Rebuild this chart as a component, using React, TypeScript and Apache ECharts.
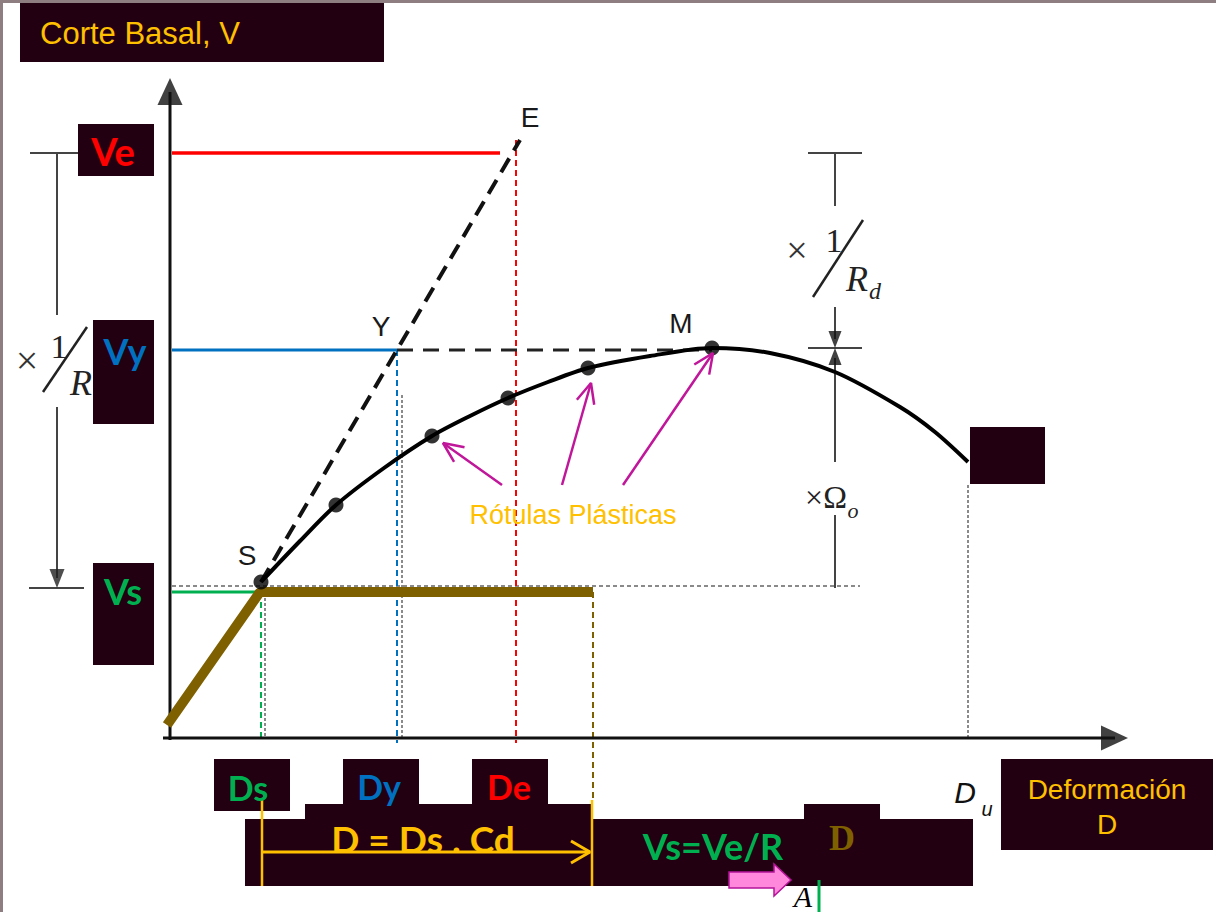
import React, { useEffect, useRef } from "react";
import * as echarts from "echarts";

// ---- Data (deformation D on x, base shear V on y) ----
const D_NAMES = ["Ds", "Dy", "De", "D", "Du"];
const D_VALUES = [0.91, 2.27, 3.46, 4.23, 7.98];
const V_NAMES = ["Vs", "Vy", "Ve"];
const V_VALUES = [1.46, 3.88, 5.85];
// capacity (pushover) curve from S through the plastic hinges to M and down to Du
const CURVE_D = [0.91, 1.3, 1.66, 2.14, 2.62, 3.0, 3.38, 3.78, 4.18, 4.8, 5.42, 6.0, 6.65, 7.3, 7.65, 7.98];
const CURVE_V = [1.56, 1.97, 2.33, 2.7, 3.02, 3.22, 3.4, 3.56, 3.7, 3.82, 3.9, 3.85, 3.66, 3.31, 3.06, 2.76];
// plastic hinge dots (S, four hinges, M)
const DOT_D = [0.91, 1.66, 2.62, 3.38, 4.18, 5.42];
const DOT_V = [1.56, 2.33, 3.02, 3.4, 3.7, 3.9];
const POINT_E = [3.5, 5.98];
// idealised bilinear (brown) response
const IDEAL_D = [-0.03, 0.9, 4.23];
const IDEAL_V = [0.13, 1.46, 1.46];
// hinge call-out arrows
const HINGE_TAIL = [[3.32, 2.53], [3.92, 2.53], [4.53, 2.53]];
const HINGE_HEAD = [[2.73, 2.95], [4.21, 3.55], [5.43, 3.85]];

const DARK = "#230011";
const YELLOW = "#FFC000";
const GREEN = "#00B050";
const BLUE = "#0070C0";
const RED = "#FF0000";
const BROWN = "#7F6000";
const MAGENTA = "#C0169A";
const SANS = "'Liberation Sans', Arial, sans-serif";
const CAL = "Lato, 'Open Sans', sans-serif";
const SERIF = "'Liberation Serif', 'Times New Roman', serif";

const seg = (pts: number[][], color: string, width: number, type: any = "solid", z = 3, extra: any = {}) => ({
  type: "line",
  data: pts,
  symbol: "none",
  silent: true,
  z,
  lineStyle: { color, width, type, cap: "butt" },
  ...extra,
});

const head = (pt: number[], w: number, h: number, rot: number, color: string) => ({
  type: "scatter",
  data: [pt],
  symbol: "triangle",
  symbolSize: [w, h],
  symbolRotate: rot,
  silent: true,
  z: 6,
  itemStyle: { color },
});

function chevron(tail: number[], tip: number[], len: number, half: number) {
  const dx = tip[0] - tail[0];
  const dy = tip[1] - tail[1];
  const L = Math.hypot(dx, dy);
  const ux = dx / L;
  const uy = dy / L;
  const bx = tip[0] - ux * len;
  const by = tip[1] - uy * len;
  return [[bx - uy * half, by + ux * half], tip, [bx + uy * half, by - ux * half]];
}

const box = (x: number, y: number, w: number, h: number) => ({
  type: "rect",
  shape: { x, y, width: w, height: h },
  style: { fill: DARK },
  z: 1,
  silent: true,
});

const txt = (x: number, y: number, text: string, fill: string, fontSize: number, fontFamily = SANS, more: any = {}) => ({
  type: "text",
  x,
  y,
  z: 50,
  silent: true,
  style: { text, fill, fontSize, fontFamily, align: "center", verticalAlign: "middle", ...more },
});

const gline = (x1: number, y1: number, x2: number, y2: number, stroke: string, lineWidth: number) => ({
  type: "line",
  shape: { x1, y1, x2, y2 },
  style: { stroke, lineWidth },
  z: 50,
  silent: true,
});

function buildOption() {
  const [Ds, Dy, De, Dd, Du] = D_VALUES;
  const [Vs, Vy, Ve] = V_VALUES;
  const curve = CURVE_D.map((d, i) => [d, CURVE_V[i]]);
  const dots = DOT_D.map((d, i) => [d, DOT_V[i]]);
  const S = dots[0];
  const M = dots[dots.length - 1];
  const ideal = IDEAL_D.map((d, i) => [d, IDEAL_V[i]]);
  const dimGray = "#444";

  const series: any[] = [
    // reference dotted grey lines
    seg([[0.02, 1.52], [6.9, 1.52]], "#8a8a8a", 2, [4, 3], 2),
    seg([[0.95, 1.4], [0.95, 0]], "#8a8a8a", 2, [3, 2], 2),
    seg([[2.32, 3.43], [2.32, 0]], "#8a8a8a", 2, [3, 2], 2),
    seg([[Du, 2.53], [Du, 0]], "#8a8a8a", 2, [3, 2], 2),
    // Ve, Vy, Vs levels
    seg([[0.02, Ve], [3.3, Ve]], RED, 3.5),
    seg([[De, POINT_E[1]], [De, -0.05]], RED, 2, [6, 4]),
    seg([[0.02, Vy], [Dy, Vy]], BLUE, 3),
    seg([[Dy, Vy], [Dy, -0.05]], BLUE, 2, [6, 4]),
    seg([[0.02, Vs], [0.88, Vs]], GREEN, 3),
    seg([[Ds, Vs], [Ds, -0.03]], GREEN, 2, [6, 4]),
    seg([[Dd, Vs], [Dd, -0.62]], BROWN, 2, [6, 4]),
    // elastic line to E and yield plateau
    seg([S, POINT_E], "#111", 4, [16, 9], 3),
    seg([[Dy, Vy], [M[0], Vy]], "#222", 3, [16, 10], 3),
    // bilinear idealisation
    seg(ideal, BROWN, 10, "solid", 5),
    // capacity curve
    seg(curve, "#000", 4, "solid", 6, { smooth: 0.3 }),
    {
      type: "scatter",
      data: dots,
      symbol: "circle",
      symbolSize: 15,
      silent: true,
      z: 7,
      itemStyle: { color: "#000" },
    },
    // axes
    seg([[0, -0.02], [0, 6.46]], "#111", 3, "solid", 4),
    seg([[-0.07, 0], [9.45, 0]], "#111", 3, "solid", 4),
    head([0, 6.465], 25, 27, 0, "#111"),
    head([9.445, 0], 25, 27, -90, "#111"),
    // left dimension (x 1/R)
    seg([[-1.4, Ve], [-0.92, Ve]], dimGray, 2),
    seg([[-1.41, 1.5], [-0.86, 1.5]], dimGray, 2),
    seg([[-1.13, Ve], [-1.13, 4.23]], dimGray, 2),
    seg([[-1.13, 3.31], [-1.13, 1.6]], dimGray, 2),
    head([-1.13, 1.595], 15, 19, 180, "#222"),
    // right dimension (x 1/Rd, x Omega)
    seg([[6.38, Ve], [6.92, Ve]], dimGray, 2),
    seg([[6.38, 3.9], [6.92, 3.9]], dimGray, 2),
    seg([[6.65, Ve], [6.65, 5.32]], dimGray, 2),
    seg([[6.65, 4.31], [6.65, 3.99]], dimGray, 2),
    seg([[6.65, 3.8], [6.65, 2.76]], dimGray, 2),
    seg([[6.65, 2.23], [6.65, 1.5]], dimGray, 2),
    head([6.65, 3.985], 13, 17, 180, "#111"),
    head([6.65, 3.815], 13, 17, 0, "#111"),
    // bottom yellow dimension D = Ds . Cd
    seg([[Ds + 0.01, -0.62], [Ds + 0.01, -1.48]], YELLOW, 2.5, "solid", 8),
    seg([[Dd - 0.01, -0.62], [Dd - 0.01, -1.48]], YELLOW, 2.5, "solid", 8),
    seg([[Ds + 0.01, -1.14], [Dd - 0.03, -1.14]], YELLOW, 3, "solid", 8),
    seg(chevron([Ds, -1.14], [Dd - 0.03, -1.14], 0.19, 0.11), YELLOW, 3, "solid", 8),
  ];
  HINGE_TAIL.forEach((t, i) => {
    series.push(seg([t, HINGE_HEAD[i]], MAGENTA, 2.5, "solid", 8));
    series.push(seg(chevron(t, HINGE_HEAD[i], 0.2, 0.09), MAGENTA, 2.5, "solid", 8));
  });

  const graphic: any[] = [
    // frame
    { type: "rect", shape: { x: 0, y: 0, width: 1216, height: 3 }, style: { fill: "#8E7E82" }, z: 60, silent: true },
    { type: "rect", shape: { x: 0, y: 0, width: 3, height: 912 }, style: { fill: "#8E7E82" }, z: 60, silent: true },
    // title
    box(20, 3, 364, 59),
    txt(40, 33, "Corte Basal, V", YELLOW, 31, SANS, { align: "left" }),
    // V level labels
    box(78, 124, 76, 52),
    txt(113, 151, V_NAMES[2], RED, 38, CAL, { fontWeight: "bold" }),
    box(93, 320, 61, 104),
    txt(125, 351, V_NAMES[1], BLUE, 36, CAL, { fontWeight: "bold" }),
    box(93, 563, 61, 102),
    txt(123, 591, V_NAMES[0], GREEN, 36, CAL, { fontWeight: "bold" }),
    box(970, 427, 75, 57),
    // D level labels
    box(214, 759, 76, 52),
    txt(248, 787, D_NAMES[0], GREEN, 34, CAL, { fontWeight: "bold" }),
    box(343, 759, 76, 46),
    txt(379, 786, D_NAMES[1], BLUE, 34, CAL, { fontWeight: "bold" }),
    box(472, 759, 76, 46),
    txt(509, 786, D_NAMES[2], RED, 34, CAL, { fontWeight: "bold" }),
    box(305, 804, 288, 16),
    box(245, 819, 728, 67),
    box(804, 804, 76, 16),
    txt(423, 838, "D = Ds . Cd", YELLOW, 37, CAL, { fontWeight: "bold" }),
    txt(713, 846, "Vs=Ve/R", GREEN, 36, CAL, { fontWeight: "bold" }),
    txt(842, 838, D_NAMES[3], BROWN, 36, SERIF, { fontWeight: "bold" }),
    {
      type: "polygon",
      shape: { points: [[729, 872], [774, 872], [774, 864], [791, 880], [774, 896], [774, 888], [729, 888]] },
      style: { fill: "#FF88DD", stroke: "#B5139A", lineWidth: 1.5 },
      z: 50,
      silent: true,
    },
    txt(803, 896, "A", "#000", 30, SERIF, { fontStyle: "italic" }),
    gline(819, 880, 819, 912, GREEN, 3),
    box(1001, 759, 212, 91),
    txt(1107, 789, "Deformación", YELLOW, 28),
    txt(1107, 824, "D", YELLOW, 28),
    // point labels
    txt(247, 555, "S", "#1a1a1a", 28),
    txt(381, 326, "Y", "#1a1a1a", 28),
    txt(681, 323, "M", "#1a1a1a", 28),
    txt(530, 117, "E", "#1a1a1a", 28),
    txt(573, 515, "Rótulas Plásticas", YELLOW, 27),
    txt(965, 792, "D", "#111", 30, SANS, { fontStyle: "italic" }),
    txt(987, 809, "u", "#111", 20, SANS, { fontStyle: "italic" }),
    // x 1/R
    txt(27, 360, "×", "#333", 40, SERIF),
    txt(59, 346, "1", "#222", 34, SERIF),
    gline(43, 392, 87, 327, "#222", 2.5),
    txt(81, 383, "R", "#222", 36, SERIF, { fontStyle: "italic" }),
    // x 1/Rd
    txt(797, 250, "×", "#333", 38, SERIF),
    txt(834, 240, "1", "#222", 34, SERIF),
    gline(813, 297, 863, 220, "#222", 2.5),
    txt(857, 279, "R", "#222", 36, SERIF, { fontStyle: "italic" }),
    txt(875, 291, "d", "#222", 24, SERIF, { fontStyle: "italic" }),
    // x Omega_o
    txt(826, 497, "×Ω", "#222", 32, SERIF),
    txt(853, 510, "o", "#222", 22, SERIF, { fontStyle: "italic" }),
  ];

  return {
    animation: false,
    backgroundColor: "#ffffff",
    grid: { left: 0, right: 0, top: 0, bottom: 0 },
    xAxis: { type: "value", min: -1.7, max: 10.46, show: false },
    yAxis: { type: "value", min: -1.74, max: 7.38, show: false },
    tooltip: { show: false },
    series,
    graphic,
  };
}

export default function App() {
  const ref = useRef<HTMLDivElement>(null);
  useEffect(() => {
    if (!ref.current) return;
    const chart = echarts.init(ref.current, undefined, { renderer: "svg", width: 1216, height: 912 });
    chart.setOption(buildOption() as any);
    return () => chart.dispose();
  }, []);
  return (
    <div
      ref={ref}
      style={{ position: "absolute", left: 0, top: 0, width: 1216, height: 912, background: "#fff" }}
    />
  );
}
